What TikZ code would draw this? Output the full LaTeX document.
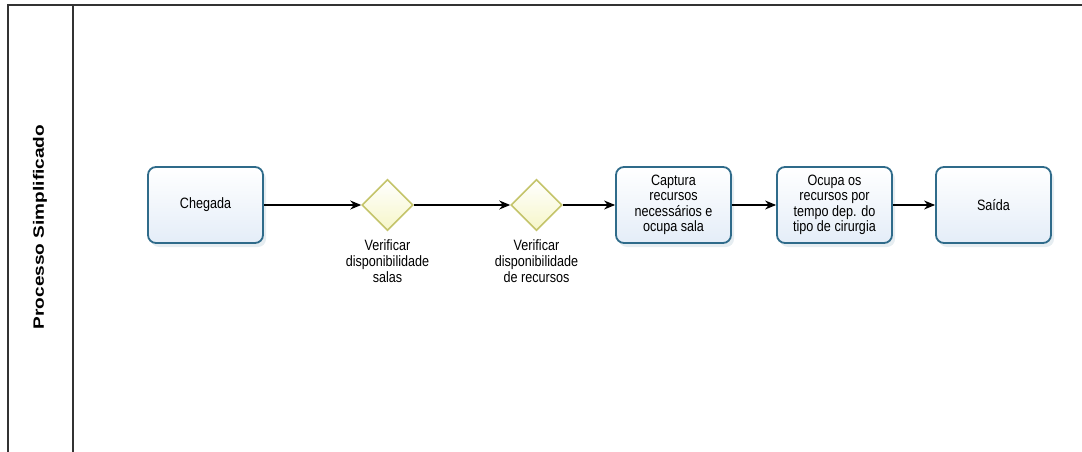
\documentclass[tikz,border=0pt]{standalone}
\usepackage{fontspec}
\setmainfont{Liberation Sans}
\newfontfamily\labelfont[FakeStretch=0.84]{Liberation Sans}
\usetikzlibrary{shapes.geometric,arrows.meta,shadows}
\definecolor{taskedge}{HTML}{2F6B8A}
\definecolor{taskfill}{HTML}{E4EDF8}
\definecolor{gateedge}{HTML}{C4C46A}
\definecolor{gatefill}{HTML}{F6F6C8}
\definecolor{pooledge}{HTML}{333333}
\tikzset{
  task/.style={draw=taskedge, line width=1.8pt, rounded corners=8pt,
    top color=white, bottom color=taskfill,
    minimum width=115pt, minimum height=76pt, inner sep=2pt,
    align=center, font=\labelfont\fontsize{15}{15.5}\selectfont,
    drop shadow={shadow xshift=3pt, shadow yshift=-4pt, opacity=0.12, fill=taskedge}},
  gate/.style={draw=gateedge, line width=1.6pt, diamond, aspect=1,
    top color=white, bottom color=gatefill,
    minimum width=51pt, minimum height=51pt, inner sep=0pt},
  gatelabel/.style={align=center, font=\labelfont\fontsize{15}{16}\selectfont,
    anchor=north, inner sep=0pt},
  flow/.style={-{Stealth[length=11pt,width=9pt]}, line width=1.2pt, black},
  pool/.style={draw=pooledge, line width=1.2pt}
}
\begin{document}
\begin{tikzpicture}[x=1pt,y=-1pt]
  \useasboundingbox (0,0) rectangle (1082,452);
  % pool frame and lane header
  \draw[pool] (8,452) -- (8,5) -- (1082,5);
  \draw[pool] (73,5) -- (73,452);
  \node (title) at (40,227) [rotate=90, font=\bfseries\fontsize{15}{18}\selectfont]
    {\scalebox{1.27}[1]{Processo Simplificado}};

  % tasks and gateways
  \node[task] (chegada) at (205.5,205) {Chegada};
  \node[gate] (g1) at (387.5,205) {};
  \node[gatelabel] (g1l) at (387.5,239) {Verificar\\disponibilidade\\salas};
  \node[gate] (g2) at (536.5,205) {};
  \node[gatelabel] (g2l) at (536.5,239) {Verificar\\disponibilidade\\de recursos};
  \node[task] (captura) at (673.5,205) {Captura\\recursos\\necessários e\\ocupa sala};
  \node[task] (ocupa) at (834.5,205) {Ocupa os\\recursos por\\tempo dep. do\\tipo de cirurgia};
  \node[task] (saida) at (993.5,205) {Saída};

  % sequence flows
  \draw[flow] (chegada.east) -- (g1.west);
  \draw[flow] (g1.east) -- (g2.west);
  \draw[flow] (g2.east) -- (captura.west);
  \draw[flow] (captura.east) -- (ocupa.west);
  \draw[flow] (ocupa.east) -- (saida.west);
\end{tikzpicture}
\end{document}
